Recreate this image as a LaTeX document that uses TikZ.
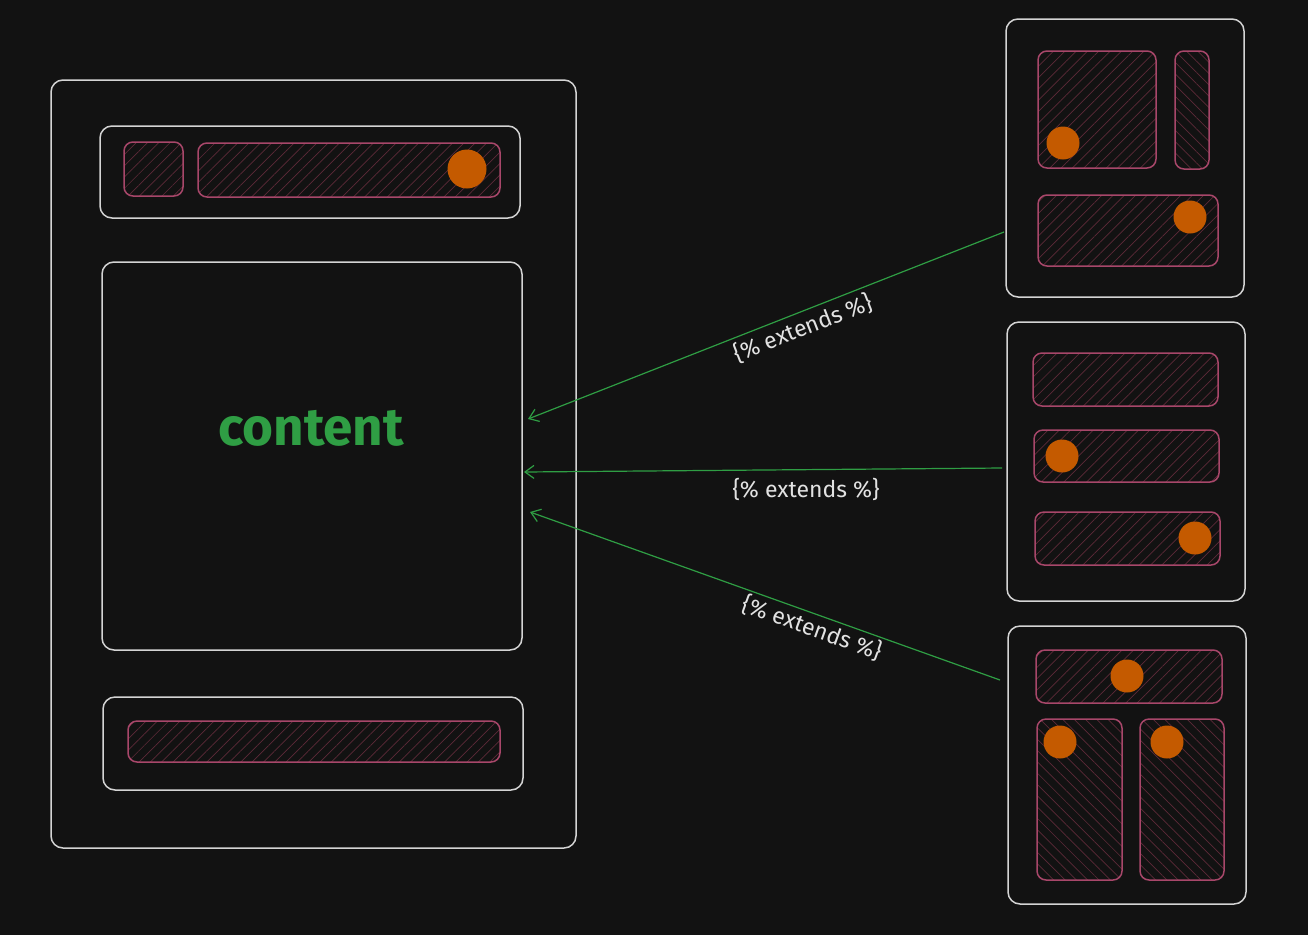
\documentclass[tikz,border=0pt]{standalone}
\usepackage{fontspec}
\setmainfont{Fira Sans}
\usetikzlibrary{positioning}
\usetikzlibrary{arrows.meta}
\usetikzlibrary{patterns.meta}

\definecolor{bg}{HTML}{121212}
\definecolor{frame}{HTML}{D4D4D4}
\definecolor{slotline}{HTML}{A8476A}
\definecolor{hatch}{HTML}{5C2A38}
\definecolor{blob}{HTML}{C45A00}
\definecolor{leaf}{HTML}{2F9E44}
\definecolor{note}{HTML}{E2E2E2}

\begin{document}
\begin{tikzpicture}[x = 1pt, y = -1pt,
	box/.style = {draw = frame, line width = 1.5pt, rounded corners = 12pt, inner sep = 0pt},
	slot/.style = {draw = slotline, line width = 1.5pt, rounded corners = 9pt, inner sep = 0pt,
		pattern = {Lines[angle = 45, distance = 8pt, line width = 0.7pt]}, pattern color = hatch},
	slotb/.style = {slot, pattern = {Lines[angle = -45, distance = 8pt, line width = 0.7pt]}},
	blob/.style = {circle, fill = blob, inner sep = 0pt, minimum size = 33pt},
	link/.style = {draw = leaf, line width = 1.2pt, -{Straight Barb[length = 9pt, width = 13pt]}},
	tag/.style = {text = note, font = \fontsize{23}{26}\selectfont}]
					\fill [bg] (0, 0) rectangle (1308, 935);
					% base layout
					\node [box, minimum width = 525pt, minimum height = 768pt] (page) at (313.5, 464) {};
					\node [box, minimum width = 420pt, minimum height = 92pt] (head) at (310, 172) {};
					\node [slot, minimum width = 59pt, minimum height = 54pt] (logo) at (153.5, 169) {};
					\node [slot, minimum width = 302pt, minimum height = 54pt] (menu) at (349, 170) {};
					\node [blob, minimum size = 39pt] (menudot) at (467, 169) {};
					\node [box, minimum width = 420pt, minimum height = 388pt] (body) at (312, 456) {};
					\node [text = leaf, font = \fontsize{53}{60}\selectfont\bfseries] (content) at (311, 428) {content};
					\node [box, minimum width = 420pt, minimum height = 93pt] (foot) at (313, 743.5) {};
					\node [slot, minimum width = 372pt, minimum height = 41pt] (footbar) at (314, 741.5) {};
					% child 1
					\node [box, minimum width = 238pt, minimum height = 278pt] (one) at (1125, 158) {};
					\node [slot, minimum width = 118pt, minimum height = 117pt] (onea) at (1097, 109.5) {};
					\node [blob] at (1063, 143) {};
					\node [slotb, minimum width = 34pt, minimum height = 118pt] (oneb) at (1192, 110) {};
					\node [slot, minimum width = 180pt, minimum height = 71pt] (onec) at (1128, 230.5) {};
					\node [blob] at (1190, 217) {};
					% child 2
					\node [box, minimum width = 238pt, minimum height = 279pt] (two) at (1126, 461.5) {};
					\node [slot, minimum width = 185pt, minimum height = 53pt] (twoa) at (1125.5, 379.5) {};
					\node [slot, minimum width = 185pt, minimum height = 52pt] (twob) at (1126.5, 456) {};
					\node [blob] at (1062, 456) {};
					\node [slot, minimum width = 185pt, minimum height = 53pt] (twoc) at (1127.5, 538.5) {};
					\node [blob] at (1195, 538) {};
					% child 3
					\node [box, minimum width = 238pt, minimum height = 278pt] (three) at (1127, 765) {};
					\node [slot, minimum width = 186pt, minimum height = 53pt] (threea) at (1129, 676.5) {};
					\node [blob] at (1127, 676) {};
					\node [slotb, minimum width = 85pt, minimum height = 161pt] (threeb) at (1079.5, 799.5) {};
					\node [blob] at (1060, 742) {};
					\node [slotb, minimum width = 84pt, minimum height = 161pt] (threec) at (1182, 799.5) {};
					\node [blob] at (1167, 742) {};
					% links
					\coordinate (from1) at (1004, 232);
					\coordinate (to1) at (528, 419);
					\coordinate (from2) at (1002, 468);
					\coordinate (to2) at (524, 472);
					\coordinate (from3) at (1000, 680);
					\coordinate (to3) at (530, 512);
					\draw [link] (from1) -- (to1);
					\draw [link] (from2) -- (to2);
					\draw [link] (from3) -- (to3);
					\node [tag, rotate = 21.4] (tag1) at (803, 328) {\{\% extends \%\}};
					\node [tag] (tag2) at (806, 489) {\{\% extends \%\}};
					\node [tag, rotate = -19.7] (tag3) at (812, 628) {\{\% extends \%\}};
				\end{tikzpicture}
\end{document}
